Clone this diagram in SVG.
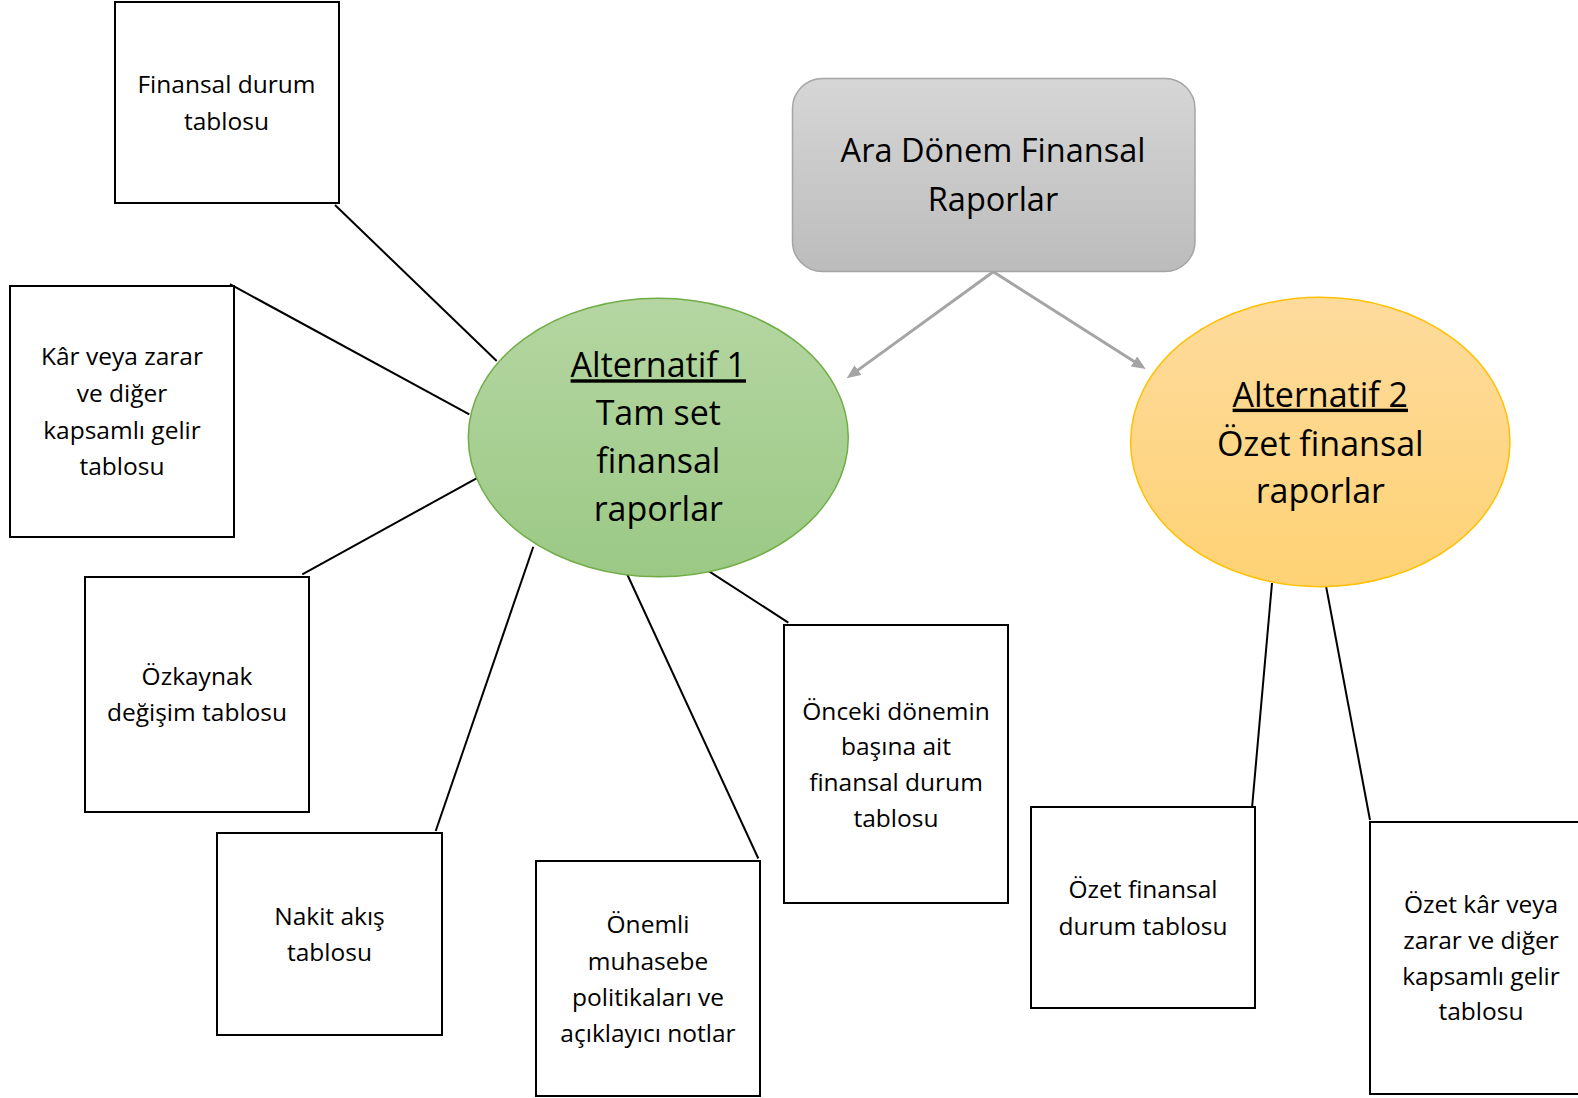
<svg xmlns="http://www.w3.org/2000/svg" width="1578" height="1098" viewBox="0 0 1578 1098">
  <style>
    .box { fill: #ffffff; stroke: #000000; stroke-width: 2; }
    .lbl { font-family: "Open Sans", "Noto Sans", sans-serif; font-size: 24.5px; fill: #000000; text-anchor: middle; }
    .big { font-family: "Open Sans", "Noto Sans", sans-serif; font-size: 32.5px; fill: #000000; text-anchor: middle; }
    .alt { font-size: 34px; }
    .link { stroke: #000000; stroke-width: 2; fill: none; }
    .arrow { stroke: #a5a5a5; stroke-width: 3; fill: none; marker-end: url(#ah); }
  </style>
  <defs>
    <linearGradient id="gGray" x1="0" y1="0" x2="0" y2="1">
      <stop offset="0" stop-color="#d6d6d6"/>
      <stop offset="1" stop-color="#bcbcbc"/>
    </linearGradient>
    <linearGradient id="gGreen" x1="0" y1="0" x2="0" y2="1">
      <stop offset="0" stop-color="#b5d6a2"/>
      <stop offset="1" stop-color="#9bc985"/>
    </linearGradient>
    <linearGradient id="gOrange" x1="0" y1="0" x2="0" y2="1">
      <stop offset="0" stop-color="#fedb9d"/>
      <stop offset="1" stop-color="#fed274"/>
    </linearGradient>
    <marker id="ah" markerUnits="userSpaceOnUse" viewBox="0 0 14 12" refX="4" refY="6" markerWidth="14" markerHeight="12" orient="auto">
      <path d="M0,0 L14,6 L0,12 z" fill="#a5a5a5"/>
    </marker>
  </defs>
  <rect width="1578" height="1098" fill="#ffffff"/>

  <g id="connectors">
    <line class="arrow" x1="993.3" y1="271.7" x2="854.8" y2="372.4"/>
    <line class="arrow" x1="993.3" y1="271.7" x2="1137.3" y2="363.6"/>
    <line class="link" x1="335" y1="205" x2="496.7" y2="361"/>
    <line class="link" x1="230" y1="284.2" x2="469.3" y2="414.3"/>
    <line class="link" x1="302.3" y1="574.4" x2="478.3" y2="477.3"/>
    <line class="link" x1="435.7" y1="831" x2="533.3" y2="546.7"/>
    <line class="link" x1="758.3" y1="858.5" x2="627.3" y2="574.5"/>
    <line class="link" x1="788.3" y1="622.6" x2="703.7" y2="567.8"/>
    <line class="link" x1="1252" y1="808" x2="1272" y2="583"/>
    <line class="link" x1="1370" y1="820" x2="1326" y2="586"/>
  </g>

  <g id="node-root">
    <rect x="792.5" y="78.5" width="402.5" height="193" rx="30" ry="30" fill="url(#gGray)" stroke="#a5a5a5" stroke-width="1.5"/>
    <text class="big"><tspan x="993" y="162.3">Ara Dönem Finansal</tspan><tspan x="993" y="210.7">Raporlar</tspan></text>
  </g>

  <g id="node-alt1">
    <ellipse cx="658.3" cy="437.5" rx="190" ry="139.2" fill="url(#gGreen)" stroke="#70ad47" stroke-width="1.5"/>
    <text class="big alt"><tspan x="658.3" y="377.3" text-decoration="underline">Alternatif 1</tspan><tspan x="658.3" y="425">Tam set</tspan><tspan x="658.3" y="473">finansal</tspan><tspan x="658.3" y="521">raporlar</tspan></text>
  </g>

  <g id="node-alt2">
    <ellipse cx="1320.3" cy="442" rx="189.7" ry="144.7" fill="url(#gOrange)" stroke="#ffc000" stroke-width="1.5"/>
    <text class="big alt"><tspan x="1320.3" y="406.7" text-decoration="underline">Alternatif 2</tspan><tspan x="1320.3" y="455.7">Özet finansal</tspan><tspan x="1320.3" y="503.3">raporlar</tspan></text>
  </g>

  <g id="node-finansal-durum">
    <rect class="box" x="115" y="2" width="224" height="201"/>
    <text class="lbl"><tspan x="226.5" y="93">Finansal durum</tspan><tspan x="226.5" y="130">tablosu</tspan></text>
  </g>

  <g id="node-kar-zarar">
    <rect class="box" x="10" y="286" width="224" height="251"/>
    <text class="lbl"><tspan x="122" y="365">Kâr veya zarar</tspan><tspan x="122" y="402">ve diğer</tspan><tspan x="122" y="438.5">kapsamlı gelir</tspan><tspan x="122" y="474.5">tablosu</tspan></text>
  </g>

  <g id="node-ozkaynak">
    <rect class="box" x="85" y="577" width="224" height="235"/>
    <text class="lbl"><tspan x="197" y="684.6">Özkaynak</tspan><tspan x="197" y="720.8">değişim tablosu</tspan></text>
  </g>

  <g id="node-nakit">
    <rect class="box" x="217" y="833" width="225" height="202"/>
    <text class="lbl"><tspan x="329.5" y="924.6">Nakit akış</tspan><tspan x="329.5" y="960.8">tablosu</tspan></text>
  </g>

  <g id="node-onemli">
    <rect class="box" x="536" y="861" width="224" height="235"/>
    <text class="lbl"><tspan x="648" y="933">Önemli</tspan><tspan x="648" y="969.5">muhasebe</tspan><tspan x="648" y="1005.5">politikaları ve</tspan><tspan x="648" y="1042">açıklayıcı notlar</tspan></text>
  </g>

  <g id="node-onceki">
    <rect class="box" x="784" y="625" width="224" height="278"/>
    <text class="lbl"><tspan x="896" y="719.5">Önceki dönemin</tspan><tspan x="896" y="755">başına ait</tspan><tspan x="896" y="791">finansal durum</tspan><tspan x="896" y="826.5">tablosu</tspan></text>
  </g>

  <g id="node-ozet-durum">
    <rect class="box" x="1031" y="807" width="224" height="201"/>
    <text class="lbl"><tspan x="1143" y="898">Özet finansal</tspan><tspan x="1143" y="935">durum tablosu</tspan></text>
  </g>

  <g id="node-ozet-kar">
    <rect class="box" x="1370" y="822" width="224" height="272"/>
    <text class="lbl"><tspan x="1481" y="913">Özet kâr veya</tspan><tspan x="1481" y="949">zarar ve diğer</tspan><tspan x="1481" y="985">kapsamlı gelir</tspan><tspan x="1481" y="1020">tablosu</tspan></text>
  </g>
</svg>
